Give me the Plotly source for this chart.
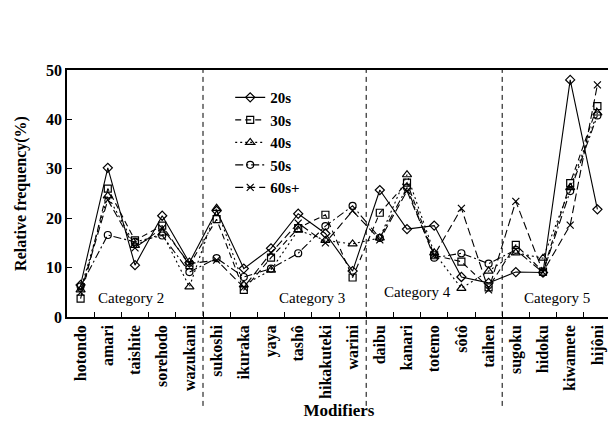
import plotly.graph_objects as go

modifiers = ["hotondo", "amari", "taishite", "sorehodo", "wazukani",
             "sukoshi", "ikuraka", "yaya", "tashô", "hikakuteki", "warini",
             "daibu", "kanari", "totemo", "sôtô", "taihen",
             "sugoku", "hidoku", "kiwamete", "hijôni"]

s20 = [6.5, 30.2, 10.5, 20.5, 11.0, 21.5, 9.8, 13.9, 20.9, 16.9, 9.3,
       25.7, 17.8, 18.5, 8.1, 6.9, 9.1, 9.0, 48.0, 21.8]
s30 = [3.7, 26.0, 15.5, 18.5, 10.5, 19.8, 5.5, 12.0, 18.0, 20.7, 8.0,
       21.1, 27.2, 12.5, 11.2, 6.0, 14.6, 9.2, 27.1, 42.7]
s40 = [5.5, 24.5, 14.5, 17.0, 6.1, 22.0, 6.5, 9.5, 17.6, 15.5, 14.8,
       16.0, 28.8, 13.0, 5.8, 9.3, 13.0, 11.9, 26.2, 41.3]
s50 = [6.2, 16.6, 15.2, 16.5, 9.1, 11.9, 8.1, 9.8, 12.9, 18.4, 22.5,
       16.0, 26.2, 12.0, 12.9, 10.8, 13.6, 9.0, 25.5, 40.8]
s60 = [5.0, 23.7, 14.0, 18.0, 10.8, 11.5, 6.0, 13.0, 19.0, 15.0, 21.5,
       15.6, 25.5, 12.5, 22.0, 5.5, 23.4, 9.1, 18.6, 47.0]

series_names = ["20s", "30s", "40s", "50s", "60s+"]
category_labels = ["Category 2", "Category 3", "Category 4", "Category 5"]

FONT = "Liberation Serif"
x = list(range(len(modifiers)))

styles = [
    dict(dash="solid", symbol="diamond-open", size=7),
    dict(dash="6px,4px", symbol="square-open", size=7),
    dict(dash="2px,3px", symbol="triangle-up-open", size=8),
    dict(dash="8px,3px,2px,3px", symbol="circle-open", size=7),
    dict(dash="8px,4px", symbol="x-thin-open", size=7),
]

fig = go.Figure()
for name, vals, st in zip(series_names, [s20, s30, s40, s50, s60], styles):
    fig.add_trace(go.Scatter(
        x=x, y=vals, name=name, mode="lines+markers",
        line=dict(color="black", width=1.1, dash=st["dash"]),
        marker=dict(symbol=st["symbol"], size=st["size"], color="black",
                    line=dict(color="black", width=1.2)),
    ))

# category separators
for bx in [4.5, 10.5, 15.5]:
    fig.add_shape(type="line", xref="x", yref="paper", x0=bx, x1=bx,
                  y0=-0.36, y1=1, line=dict(color="black", width=1, dash="5px,4px"))

cat_pos = [(1.85, 3.8), (8.5, 3.8), (12.4, 5.0), (17.5, 3.8)]
for label, (cx, cy) in zip(category_labels, cat_pos):
    fig.add_annotation(x=cx, y=cy, text=label, showarrow=False, xref="x", yref="y",
                       font=dict(family=FONT, size=15, color="black"))

fig.update_layout(
    width=608, height=420,
    margin=dict(l=59, r=3, t=62, b=111),
    paper_bgcolor="white", plot_bgcolor="white",
    font=dict(family=FONT, color="black"),
    showlegend=True,
    legend=dict(x=0.30, y=0.955, xanchor="left", yanchor="top",
                bgcolor="rgba(0,0,0,0)", borderwidth=0,
                font=dict(family=FONT, size=15, color="black", weight="bold"),
                tracegroupgap=0, itemsizing="trace"),
)

fig.update_xaxes(
    range=[-0.5, 19.5],
    tickmode="array", tickvals=x, ticktext=modifiers,
    tickangle=-90, ticks="", showline=True, linecolor="black", linewidth=1.5,
    mirror=True, showgrid=False, zeroline=False,
    tickfont=dict(family=FONT, size=16, color="black", weight="bold"),
    minor=dict(tickmode="array", tickvals=[i + 0.5 for i in range(19)],
               ticks="inside", ticklen=5, tickcolor="black", tickwidth=1),
    title=dict(text="Modifiers", font=dict(family=FONT, size=17, color="black", weight="bold"),
               standoff=6),
)
fig.update_yaxes(
    range=[0, 50], tickvals=[0, 10, 20, 30, 40, 50],
    ticks="inside", ticklen=5, tickcolor="black",
    showline=True, linecolor="black", linewidth=1.5, mirror=True,
    showgrid=False, zeroline=False,
    tickfont=dict(family=FONT, size=16, color="black", weight="bold"),
    title=dict(text="Relative frequency(%)",
               font=dict(family=FONT, size=16, color="black", weight="bold"), standoff=15),
)

fig.write_html("out.html")
